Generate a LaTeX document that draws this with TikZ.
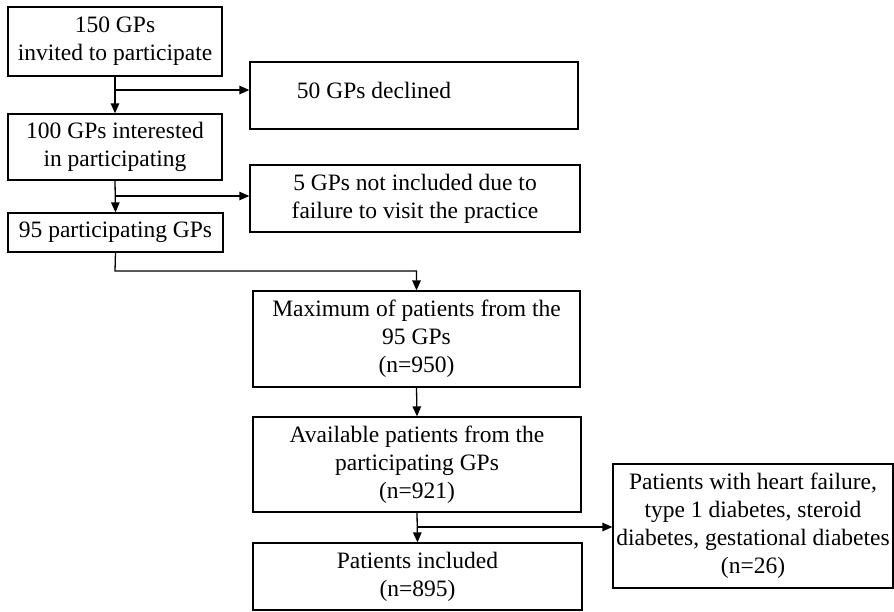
\documentclass[tikz,border=0pt]{standalone}
\usepackage{fontspec}
\setmainfont{Liberation Serif}
\usetikzlibrary{arrows.meta,calc}
\begin{document}
\begin{tikzpicture}[x=1pt,y=-1pt,
  txt/.style={font=\fontsize{23.5}{28}\selectfont},
  box/.style={txt,draw=black,line width=1.3pt,rectangle,inner sep=0pt,align=center,fill=white},
  arr/.style={line width=1.3pt,-{Triangle[length=10pt,width=8.5pt]}},
  ln/.style={line width=1.3pt}]
\useasboundingbox[fill=white] (0,0) rectangle (894,611);
% left column
\node[box,minimum width=214pt,minimum height=69pt] (b1) at (115,41.5) {150 GPs\\invited to participate};
\node[box,minimum width=214pt,minimum height=66pt] (b2) at (115,147) {100 GPs interested\\in participating};
\node[box,minimum width=215pt,minimum height=39pt] (b3) at (115.5,232.5) {95 participating GPs};
% side boxes
\node[box,minimum width=328pt,minimum height=67pt] (declined) at (414,95.5) {};
\node[txt,inner sep=0pt] (declinedtext) at ($(declined.center)+(-40,-5)$) {50 GPs declined};
\node[box,minimum width=330pt,minimum height=67pt] (notinc) at (415,198.5) {5 GPs not included due to\\failure to visit the practice};
% right column
\node[box,minimum width=327pt,minimum height=96pt] (max) at (416.5,339) {Maximum of patients from the\\95 GPs\\(n=950)};
\node[box,minimum width=328pt,minimum height=95pt] (avail) at (417,464.5) {Available patients from the\\participating GPs\\(n=921)};
\node[box,minimum width=329pt,minimum height=67pt] (incl) at (417.5,576.5) {Patients included\\(n=895)};
\node[box,minimum width=280pt,minimum height=124pt] (excl) at (753,526) {Patients with heart failure,\\type 1 diabetes, steroid\hspace*{1.4em}\\diabetes, gestational diabetes\\(n=26)};
% connectors
\coordinate (j1) at (115,90);
\coordinate (j2) at (115,196);
\coordinate (j3) at (417,527);
\coordinate (k1) at (115,271);
\draw[arr] (b1.south) -- (b2.north);
\draw[arr] (j1) -- (j1 -| declined.west);
\draw[arr] (b2.south) -- (b3.north);
\draw[arr] (j2) -- (j2 -| notinc.west);
\draw[arr] (b3.south) -- (k1) -| (max.north);
\draw[arr] (max.south) -- (avail.north);
\draw[arr] (avail.south) -- (incl.north);
\draw[arr] (j3) -- (j3 -| excl.west);
\end{tikzpicture}
\end{document}
